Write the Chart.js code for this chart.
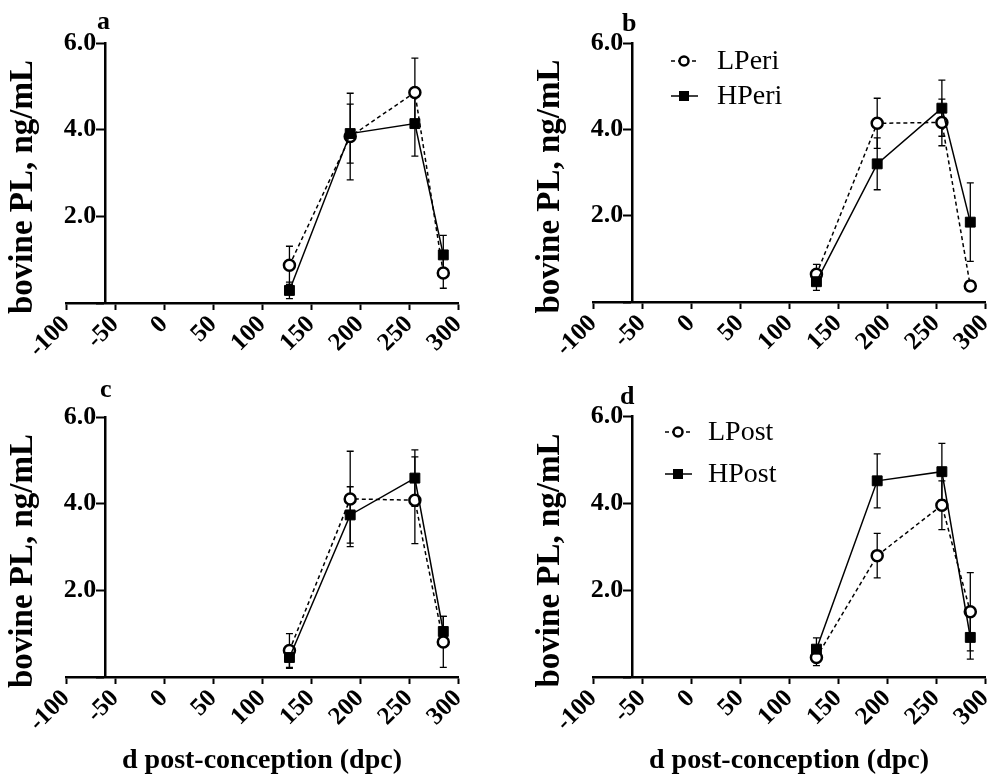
<!DOCTYPE html>
<html><head><meta charset="utf-8">
<script src="https://cdn.jsdelivr.net/npm/chart.js@4.4.1/dist/chart.umd.min.js"></script>
<style>
html,body{margin:0;padding:0;background:#fff;overflow:hidden;width:991px;height:780px;}
.w{position:absolute;}
.lbl{position:absolute;font:bold 26px "Liberation Serif",serif;line-height:26px;color:#000;}
</style></head><body>
<div class="w" style="left:0;top:0;width:495px;height:390px"><canvas id="ca" width="495" height="390"></canvas></div>
<div class="w" style="left:527px;top:0;width:495px;height:390px"><canvas id="cb" width="495" height="390"></canvas></div>
<div class="w" style="left:0;top:374px;width:495px;height:406px"><canvas id="cc" width="495" height="406"></canvas></div>
<div class="w" style="left:527px;top:373px;width:495px;height:407px"><canvas id="cd" width="495" height="407"></canvas></div>
<div class="lbl" style="left:97px;top:8px">a</div>
<div class="lbl" style="left:622px;top:10px">b</div>
<div class="lbl" style="left:100px;top:376px">c</div>
<div class="lbl" style="left:620px;top:383px">d</div>
<script>
// ---- data ----
const days = [128, 190, 256, 285];           // d post-conception
const xTicksMin = -100, xTicksMax = 300, xStep = 50;
const yTicksMin = 0, yTicksMax = 6, yStep = 2;

// panel a
const L_a    = [0.87, 3.84, 4.86, 0.69];
const errL_a = [0.44, 1.00, 0.79, 0.35];
const H_a    = [0.29, 3.91, 4.14, 1.11];
const errH_a = [0.19, 0.68, 0.75, 0.45];
// panel b
const LPeri    = [0.64, 4.14, 4.16, 0.37];
const errLPeri = [0.23, 0.58, 0.54, 0.12];
const HPeri    = [0.47, 3.20, 4.49, 1.85];
const errHPeri = [0.20, 0.60, 0.65, 0.91];
// panel c
const L_c    = [0.61, 4.11, 4.08, 0.81];
const errL_c = [0.39, 1.10, 1.00, 0.59];
const H_c    = [0.45, 3.74, 4.59, 1.05];
const errH_c = [0.25, 0.65, 0.65, 0.35];
// panel d
const LPost    = [0.45, 2.79, 3.95, 1.50];
const errLPost = [0.19, 0.51, 0.56, 0.90];
const HPost    = [0.64, 4.51, 4.72, 0.91];
const errHPost = [0.26, 0.62, 0.65, 0.50];

const yTitle = 'bovine PL, ng/mL';
const xTitle = 'd post-conception (dpc)';

// ---- plugins ----
const errorBars = {
  id: 'errorBars',
  beforeDatasetsDraw(chart) {
    const {ctx, scales: {x, y}} = chart;
    ctx.save();
    ctx.strokeStyle = '#000';
    ctx.lineWidth = 1.3;
    chart.data.datasets.forEach(ds => {
      ds.data.forEach((p, j) => {
        const e = ds.err[j];
        const px = x.getPixelForValue(p.x);
        const t = y.getPixelForValue(p.y + e), b = y.getPixelForValue(p.y - e);
        ctx.beginPath();
        ctx.moveTo(px, t); ctx.lineTo(px, b);
        ctx.moveTo(px - 3.5, t); ctx.lineTo(px + 3.5, t);
        ctx.moveTo(px - 3.5, b); ctx.lineTo(px + 3.5, b);
        ctx.stroke();
      });
    });
    ctx.restore();
  }
};

// y axis sits at x = -60; move its labels to the left of the tick marks
const yLabelShift = {
  id: 'yLabelShift',
  beforeDraw(chart) {
    const s = chart.scales.y;
    if (!s._shiftPatched) {
      const orig = s._computeLabelItems;
      s._computeLabelItems = function (ca) {
        const items = orig.call(this, ca);
        items.forEach(it => { it.options.translation[0] -= 9; });
        return items;
      };
      s._shiftPatched = true;
      s._labelItems = null;
    }
  }
};

const extras = {
  id: 'extras',
  afterDraw(chart, args, opts) {
    const {ctx, chartArea: ca} = chart;
    ctx.save();
    ctx.fillStyle = '#000';
    ctx.font = 'bold 33px "Liberation Serif", serif';
    ctx.textAlign = 'center';
    ctx.textBaseline = 'middle';
    ctx.translate(ca.left - 43, (ca.top + ca.bottom) / 2 + 14);
    ctx.rotate(-Math.PI / 2);
    ctx.fillText(yTitle, 0, 0);
    ctx.restore();
    if (opts.items) {
      ctx.save();
      opts.items.forEach((it, k) => {
        const ds = chart.data.datasets[it.ds];
        const cx = ca.left + opts.dx, cy = ca.top + opts.rows[k];
        ctx.strokeStyle = '#000';
        ctx.lineWidth = 1.5;
        ctx.setLineDash(ds.borderDash || []);
        ctx.beginPath(); ctx.moveTo(cx - 13, cy); ctx.lineTo(cx + 14, cy); ctx.stroke();
        ctx.setLineDash([]);
        if (ds.pointStyle === 'circle') {
          ctx.fillStyle = '#fff'; ctx.lineWidth = 2.5;
          ctx.beginPath(); ctx.arc(cx, cy, 4.5, 0, Math.PI * 2); ctx.fill(); ctx.stroke();
        } else {
          ctx.fillStyle = '#000';
          ctx.fillRect(cx - 5, cy - 5, 10, 10);
        }
        ctx.fillStyle = '#000';
        ctx.font = '28px "Liberation Serif", serif';
        ctx.textAlign = 'left'; ctx.textBaseline = 'middle';
        ctx.fillText(ds.label, cx + opts.tx, cy + 1);
      });
      ctx.restore();
    }
  }
};

const bold = s => ({family: '"Liberation Serif", serif', weight: 'bold', size: s});

function makeChart(id, p) {
  const pts = arr => days.map((d, i) => ({x: d, y: arr[i]}));
  return new Chart(document.getElementById(id), {
    type: 'line',
    data: {
      datasets: [
        {label: p.names[1], data: pts(p.H), err: p.errH, borderColor: '#000', borderWidth: 1.5,
         pointStyle: 'rect', pointRadius: 7, pointBackgroundColor: '#000', pointBorderColor: '#000',
         pointBorderWidth: 1, fill: false, tension: 0},
        {label: p.names[0], data: pts(p.L), err: p.errL, borderColor: '#000', borderWidth: 1.5,
         borderDash: [4, 3], pointStyle: 'circle', pointRadius: 5.5, pointBackgroundColor: '#fff',
         pointBorderColor: '#000', pointBorderWidth: 2.5, fill: false, tension: 0}
      ]
    },
    options: {
      responsive: false, animation: false, devicePixelRatio: 1,
      layout: {padding: {left: 66, right: 37, top: 43, bottom: p.pb}},
      plugins: {legend: {display: false}, tooltip: {enabled: false}, extras: p.legend || {}},
      scales: {
        x: {
          type: 'linear', position: 'bottom', min: xTicksMin, max: xTicksMax,
          ticks: {stepSize: xStep, minRotation: 45, maxRotation: 45, autoSkip: false,
                  font: bold(25), color: '#000', padding: 0},
          grid: {drawOnChartArea: false, drawTicks: true, tickLength: 7, tickWidth: 2, color: '#000'},
          border: {display: true, width: 2.5, color: '#000'},
          title: {display: !!p.xTitle, text: xTitle, font: bold(28), color: '#000', padding: 0},
          afterFit(s) { s.height = p.xh; }
        },
        y: {
          type: 'linear', position: {x: -60}, min: yTicksMin, max: yTicksMax,
          ticks: {stepSize: yStep, font: bold(26), color: '#000', padding: 2,
                  callback: v => v === 0 ? '' : v.toFixed(1)},
          grid: {drawOnChartArea: false, drawTicks: true, tickLength: 8, tickWidth: 2, color: '#000'},
          border: {display: true, width: 2.5, color: '#000'}
        }
      }
    },
    plugins: [errorBars, yLabelShift, extras]
  });
}

makeChart('ca', {names: ['L', 'H'], L: L_a, errL: errL_a, H: H_a, errH: errH_a, pb: 17, xh: 70});
makeChart('cb', {names: ['LPeri', 'HPeri'], L: LPeri, errL: errLPeri, H: HPeri, errH: errHPeri, pb: 18, xh: 70,
  legend: {items: [{ds: 1}, {ds: 0}], dx: 91, tx: 33, rows: [18, 53]}});
makeChart('cc', {names: ['L', 'H'], L: L_c, errL: errL_c, H: H_c, errH: errH_c, pb: 2, xh: 101, xTitle: true});
makeChart('cd', {names: ['LPost', 'HPost'], L: LPost, errL: errLPost, H: HPost, errH: errHPost, pb: 2, xh: 101, xTitle: true,
  legend: {items: [{ds: 1}, {ds: 0}], dx: 85, tx: 30, rows: [16, 58]}});
</script>
</body></html>
